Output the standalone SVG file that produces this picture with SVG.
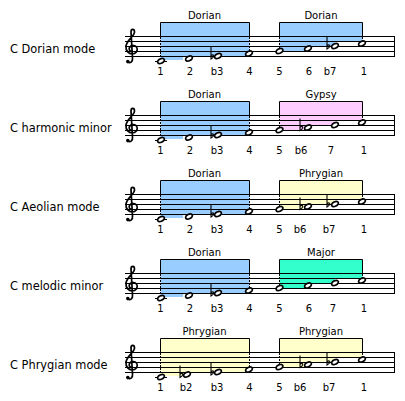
<svg xmlns="http://www.w3.org/2000/svg" width="405" height="401" viewBox="0 0 405 401">
<style>
.lbl{font-family:"DejaVu Sans",Verdana,sans-serif;font-size:11.4px;fill:#000}
.t{font-family:"DejaVu Sans",Verdana,sans-serif;font-size:10px;fill:#000;text-anchor:middle}
.ln{stroke:#000;stroke-width:1;fill:none}
.dash{stroke:#000;stroke-width:1;stroke-dasharray:2 1;fill:none}
.blue{fill:#99CCFF}.pink{fill:#FFCCFF}.yellow{fill:#FFFFCC}.green{fill:#33FFCC}
.nh{fill:#fff;stroke:#000;stroke-width:1.7}
.fl{fill:none;stroke:#000;stroke-width:1.1}
.clef{fill:none;stroke:#000;stroke-width:1.7;stroke-linecap:round}
</style>
<defs>
<g id="staff">
<path class="ln" d="M125,36.5H394.5M125,41.5H394.5M125,46.5H394.5M125,51.5H394.5M125,56.5H394.5M394.5,36V57"/>
</g>
<g id="clef">
<path class="clef" d="M128,62 C130,63.5 133,62 132.5,58 L131,32 C131,28.5 134.5,28.5 134.5,32 C134.5,36 127,40 126,46 C125.5,51 129,54 132,54 C136,54 138,50.5 137,48 C136,45 131,44.5 129.5,47.5 C128.5,49.5 130,51.5 131.5,51.5"/>
<circle cx="127.8" cy="61.6" r="1.8" fill="#000"/>
</g>
<ellipse id="n" cx="0" cy="0" rx="3.6" ry="2.3" transform="rotate(-25)" class="nh"/>
<path id="flat" class="fl" d="M0,-9 V3 C3.5,1 4,-2.5 0,-0.5"/>
<g id="frame">
<path class="ln" d="M160.5,36V22.5H249.5V36M279.5,36V22.5H362.5V36"/>
<path class="dash" d="M160.5,37V59M249.5,37V52M279.5,37V49M362.5,37V42"/>
</g>
<path id="f1" d="M160.5,22.5H249.5V56H183V60H160.5Z"/>
<path id="f2" d="M279.5,22.5H362.5V42H335V47H305V52H279.5Z"/>
<g id="lowtet">
<path class="ln" d="M155,61.5H167"/>
<use href="#n" x="161" y="61"/>
<use href="#n" x="218" y="56"/><use href="#flat" x="211" y="56"/>
<use href="#n" x="249" y="53.5"/>
<use href="#n" x="279.5" y="51"/>
<use href="#n" x="362" y="43.5"/>
</g>
</defs>

<g id="row1">
<use href="#f1" class="blue"/><use href="#f2" class="blue"/>
<use href="#staff"/><use href="#frame"/><use href="#clef"/>
<text class="lbl" x="10" y="53">C Dorian mode</text>
<text class="t" x="204.5" y="18.5">Dorian</text>
<text class="t" x="321" y="18.5">Dorian</text>
<use href="#lowtet"/>
<use href="#n" x="189" y="58.5"/>
<use href="#n" x="308" y="48.5"/>
<use href="#n" x="335" y="46"/><use href="#flat" x="327" y="46"/>
<g class="t"><text x="160.5" y="75">1</text><text x="190" y="75">2</text><text x="217" y="75">b3</text><text x="249.5" y="75">4</text><text x="279.5" y="75">5</text><text x="309" y="75">6</text><text x="330" y="75">b7</text><text x="364" y="75">1</text></g>
</g>

<g id="row2" transform="translate(0,79)">
<use href="#f1" class="blue"/><use href="#f2" class="pink"/>
<use href="#staff"/><use href="#frame"/><use href="#clef"/>
<text class="lbl" x="10" y="53">C harmonic minor</text>
<text class="t" x="204.5" y="18.5">Dorian</text>
<text class="t" x="321" y="18.5">Gypsy</text>
<use href="#lowtet"/>
<use href="#n" x="189" y="58.5"/>
<use href="#n" x="308" y="48.5"/><use href="#flat" x="300" y="48.5"/>
<use href="#n" x="335" y="46"/>
<g class="t"><text x="160.5" y="75">1</text><text x="190" y="75">2</text><text x="217" y="75">b3</text><text x="249.5" y="75">4</text><text x="279.5" y="75">5</text><text x="301" y="75">b6</text><text x="331" y="75">7</text><text x="364" y="75">1</text></g>
</g>

<g id="row3" transform="translate(0,158)">
<use href="#f1" class="blue"/><use href="#f2" class="yellow"/>
<use href="#staff"/><use href="#frame"/><use href="#clef"/>
<text class="lbl" x="10" y="53">C Aeolian mode</text>
<text class="t" x="204.5" y="18.5">Dorian</text>
<text class="t" x="321" y="18.5">Phrygian</text>
<use href="#lowtet"/>
<use href="#n" x="189" y="58.5"/>
<use href="#n" x="308" y="48.5"/><use href="#flat" x="300" y="48.5"/>
<use href="#n" x="335" y="46"/><use href="#flat" x="327" y="46"/>
<g class="t"><text x="160.5" y="75">1</text><text x="190" y="75">2</text><text x="217" y="75">b3</text><text x="249.5" y="75">4</text><text x="279.5" y="75">5</text><text x="300" y="75">b6</text><text x="329" y="75">b7</text><text x="364" y="75">1</text></g>
</g>

<g id="row4" transform="translate(0,237)">
<use href="#f1" class="blue"/><use href="#f2" class="green"/>
<use href="#staff"/><use href="#frame"/><use href="#clef"/>
<text class="lbl" x="10" y="53">C melodic minor</text>
<text class="t" x="204.5" y="18.5">Dorian</text>
<text class="t" x="321" y="18.5">Major</text>
<use href="#lowtet"/>
<use href="#n" x="189" y="58.5"/>
<use href="#n" x="308" y="48.5"/>
<use href="#n" x="335" y="46"/>
<g class="t"><text x="160.5" y="75">1</text><text x="190" y="75">2</text><text x="217" y="75">b3</text><text x="249.5" y="75">4</text><text x="279.5" y="75">5</text><text x="309" y="75">6</text><text x="333" y="75">7</text><text x="364" y="75">1</text></g>
</g>

<g id="row5" transform="translate(0,316)">
<use href="#f1" class="yellow"/><use href="#f2" class="yellow"/>
<use href="#staff"/><use href="#frame"/><use href="#clef"/>
<text class="lbl" x="10" y="53">C Phrygian mode</text>
<text class="t" x="204.5" y="18.5">Phrygian</text>
<text class="t" x="321" y="18.5">Phrygian</text>
<use href="#lowtet"/>
<use href="#n" x="187" y="58.5"/><use href="#flat" x="180" y="58.5"/>
<use href="#n" x="308" y="48.5"/><use href="#flat" x="300" y="48.5"/>
<use href="#n" x="335" y="46"/><use href="#flat" x="327" y="46"/>
<g class="t"><text x="160.5" y="75">1</text><text x="186" y="75">b2</text><text x="217" y="75">b3</text><text x="249.5" y="75">4</text><text x="279.5" y="75">5</text><text x="300" y="75">b6</text><text x="329" y="75">b7</text><text x="364" y="75">1</text></g>
</g>
</svg>
